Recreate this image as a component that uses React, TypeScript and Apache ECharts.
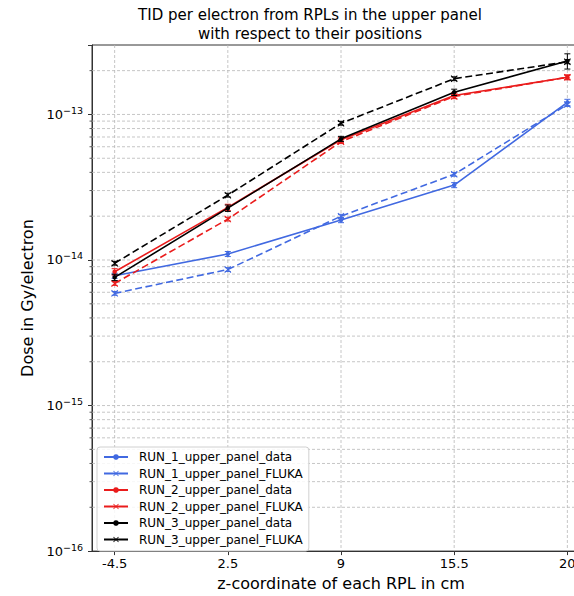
import React, { useEffect, useRef } from 'react';
import * as echarts from 'echarts';

// ---- data ----
const positions = ['-4.5', '2.5', '9', '15.5', '20'];
const seriesNames = [
  'RUN_1_upper_panel_data',
  'RUN_1_upper_panel_FLUKA',
  'RUN_2_upper_panel_data',
  'RUN_2_upper_panel_FLUKA',
  'RUN_3_upper_panel_data',
  'RUN_3_upper_panel_FLUKA',
];
const run1Data = [7.8e-15, 1.1e-14, 1.88e-14, 3.27e-14, 1.21e-13];
const run1Fluka = [5.9e-15, 8.6e-15, 2.0e-14, 3.88e-14, 1.17e-13];
const run2Data = [8.3e-15, 2.3e-14, 6.7e-14, 1.35e-13, 1.8e-13];
const run2Fluka = [6.9e-15, 1.91e-14, 6.5e-14, 1.33e-13, 1.8e-13];
const run3Data = [7.6e-15, 2.27e-14, 6.8e-14, 1.42e-13, 2.33e-13];
const run3Fluka = [9.5e-15, 2.79e-14, 8.7e-14, 1.76e-13, 2.3e-13];
// relative errors
const run1DataErr = [0.04, 0.04, 0.04, 0.04, 0.05];
const run1FlukaErr = [0.03, 0.03, 0.03, 0.03, 0.03];
const run2DataErr = [0.05, 0.05, 0.04, 0.05, 0.04];
const run2FlukaErr = [0.03, 0.03, 0.03, 0.03, 0.03];
const run3DataErr = [0.05, 0.05, 0.04, 0.05, 0.12];
const run3FlukaErr = [0.03, 0.03, 0.03, 0.03, 0.03];

const yMin = 1e-16;
const yMax = 3e-13;
const majorGrid = [1e-15, 1e-14, 1e-13];
const decades = [-16, -15, -14, -13];
const minorMantissas = [2, 3, 4, 5, 6, 7, 8, 9];

const FONT = 'DejaVu Sans';
const BLUE = '#4169e1';
const RED = '#ea1c1c';
const BLACK = '#000000';
const XSYM = 'path://M0,1L1,0L5,4L9,0L10,1L6,5L10,9L9,10L5,6L1,10L0,9L4,5Z';

export default function App() {
  const ref = useRef<HTMLDivElement>(null);
  useEffect(() => {
    if (!ref.current) return;
    const chart = echarts.init(ref.current, null, { renderer: 'svg' });

    const allValues = [run1Data, run1Fluka, run2Data, run2Fluka, run3Data, run3Fluka];
    const allErrs = [run1DataErr, run1FlukaErr, run2DataErr, run2FlukaErr, run3DataErr, run3FlukaErr];
    const colors = [BLUE, BLUE, RED, RED, BLACK, BLACK];

    const gridVals: number[][] = [];
    majorGrid.forEach((v) => gridVals.push([0, v, 0]));
    decades.forEach((d) => {
      minorMantissas.forEach((m) => {
        const v = m * Math.pow(10, d);
        if (v > yMin && v < yMax) gridVals.push([0, v, 1]);
      });
    });

    const series: any[] = [];
    series.push({
      type: 'custom',
      silent: true,
      z: 1,
      clip: false,
      data: gridVals,
      encode: { x: 0, y: 1 },
      renderItem: (params: any, api: any) => {
        const cs = params.coordSys;
        const y = api.coord([0, api.value(1)])[1];
        const children: any[] = [
          {
            type: 'line',
            shape: { x1: cs.x, y1: y, x2: cs.x + cs.width, y2: y },
            style: { stroke: '#b8b8b8', lineWidth: 0.8, lineDash: [3, 2] },
          },
        ];
        if (api.value(2)) {
          children.push({
            type: 'line',
            shape: { x1: cs.x - 2.5, y1: y, x2: cs.x, y2: y },
            style: { stroke: '#333', lineWidth: 0.8 },
          });
        }
        return { type: 'group', children };
      },
    });
    series.push({
      type: 'custom',
      silent: true,
      z: 1,
      data: positions.map((_, i) => [i, 1e-15]),
      encode: { x: 0, y: 1 },
      renderItem: (params: any, api: any) => {
        const cs = params.coordSys;
        const x = api.coord([api.value(0), 1e-15])[0];
        return {
          type: 'line',
          shape: { x1: x, y1: cs.y, x2: x, y2: cs.y + cs.height },
          style: { stroke: '#b8b8b8', lineWidth: 0.8, lineDash: [3, 2] },
        };
      },
    });

    allValues.forEach((vals, k) => {
      const isFluka = k % 2 === 1;
      const color = colors[k];
      series.push({
        type: 'custom',
        silent: true,
        z: 3 + k,
        data: vals.map((v, i) => [i, v * (1 - allErrs[k][i]), v * (1 + allErrs[k][i])]),
        encode: { x: 0, y: [1, 2] },
        renderItem: (params: any, api: any) => {
          const i = api.value(0);
          const pLo = api.coord([i, api.value(1)]);
          const pHi = api.coord([i, api.value(2)]);
          const st = { stroke: color, lineWidth: 1 };
          return {
            type: 'group',
            children: [
              { type: 'line', shape: { x1: pLo[0], y1: pLo[1], x2: pHi[0], y2: pHi[1] }, style: st },
              { type: 'line', shape: { x1: pLo[0] - 3, y1: pLo[1], x2: pLo[0] + 3, y2: pLo[1] }, style: st },
              { type: 'line', shape: { x1: pHi[0] - 3, y1: pHi[1], x2: pHi[0] + 3, y2: pHi[1] }, style: st },
            ],
          };
        },
      });
      series.push({
        name: seriesNames[k],
        type: 'line',
        z: 3 + k,
        data: vals.map((v, i) => [i, v]),
        symbol: isFluka ? XSYM : 'circle',
        symbolSize: isFluka ? 7 : 4.5,
        showAllSymbol: true,
        itemStyle: { color },
        lineStyle: { color, width: 1.6, type: isFluka ? [7, 3.5] : 'solid' },
      });
    });

    chart.setOption({
      animation: false,
      title: {
        text: 'TID per electron from RPLs in the upper panel\nwith respect to their positions',
        left: 'center',
        top: 0,
        textStyle: { fontFamily: FONT, fontSize: 15, fontWeight: 'normal', color: '#000', lineHeight: 19 },
      },
      grid: {
        left: 92,
        top: 45,
        width: 498,
        height: 512,
        show: true,
        borderColor: '#333',
        borderWidth: 1,
        backgroundColor: 'transparent',
      },
      legend: {
        orient: 'vertical',
        left: 97,
        top: 447,
        itemWidth: 24,
        itemHeight: 7,
        itemGap: 4.5,
        padding: [4, 6, 5.5, 6],
        backgroundColor: 'rgba(255,255,255,0.85)',
        borderColor: '#d0d0d0',
        borderWidth: 1,
        borderRadius: 3,
        z: 20,
        lineStyle: { type: 'solid' },
        textStyle: { fontFamily: FONT, fontSize: 12, lineHeight: 12, color: '#000', padding: [0, 0, 0, 6] },
        data: seriesNames,
      },
      xAxis: {
        type: 'value',
        min: -0.2,
        max: 4.2,
        name: 'z-coordinate of each RPL in cm',
        nameLocation: 'middle',
        nameGap: 23,
        nameTextStyle: { fontFamily: FONT, fontSize: 16, color: '#000' },
        axisLine: { onZero: false, lineStyle: { color: '#333', width: 1 } },
        axisTick: { customValues: [0, 1, 2, 3, 4], length: 4, lineStyle: { color: '#333' } },
        axisLabel: {
          customValues: [0, 1, 2, 3, 4],
          margin: 6,
          fontFamily: FONT,
          fontSize: 13,
          color: '#000',
          formatter: (v: number) => positions[Math.round(v)] ?? '',
        },
        splitLine: { show: false },
      },
      yAxis: {
        type: 'log',
        logBase: 10,
        min: yMin,
        max: yMax,
        name: 'Dose in Gy/electron',
        nameLocation: 'middle',
        nameGap: 49,
        nameTextStyle: { fontFamily: FONT, fontSize: 16, color: '#000' },
        axisLine: { show: true, onZero: false, lineStyle: { color: '#333', width: 1 } },
        axisTick: { show: true, length: 4, lineStyle: { color: '#333' } },
        splitLine: { show: false },
        minorTick: { show: false },
        axisLabel: {
          margin: 9,
          fontFamily: FONT,
          color: '#000',
          formatter: (v: number) => {
            const l = Math.log10(v);
            const e = Math.round(l);
            if (Math.abs(l - e) > 1e-6) return '';
            return '{b|10}{s|\u2212' + -e + '}';
          },
          rich: {
            b: { fontFamily: FONT, fontSize: 13, lineHeight: 18, color: '#000' },
            s: { fontFamily: FONT, fontSize: 9.5, lineHeight: 9.5, verticalAlign: 'top', color: '#000' },
          },
        },
      },
      series,
    });
    return () => chart.dispose();
  }, []);

  return (
    <div
      style={{
        position: 'fixed',
        left: 0,
        top: 0,
        width: 574,
        height: 596,
        overflow: 'hidden',
        background: '#fff',
      }}
    >
      <div ref={ref} style={{ width: 620, height: 596 }} />
    </div>
  );
}
